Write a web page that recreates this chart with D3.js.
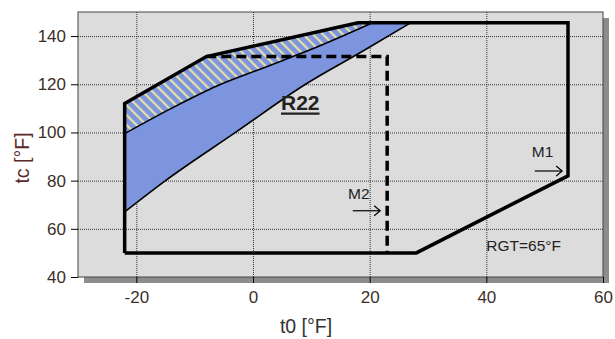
<!DOCTYPE html>
<html><head><meta charset="utf-8">
<script src="https://cdn.jsdelivr.net/npm/d3@7"></script>
<style>body{margin:0;background:#fff}svg{display:block}</style>
</head><body>
<script>
// ---- data ----
const xTicks = [-20, 0, 20, 40, 60];
const yTicks = [40, 60, 80, 100, 120, 140];
const envelope = [[-22,50],[-22,112],[-8,131.5],[18,145.5],[54,145.5],[54,82],[28,50],[-22,50]];
const dashedLimit = [[-8,131.5],[23,131.5],[23,50]];
const lowerLine = [[-22,67],[-15,80],[-3,100],[9,120],[19,134],[27,145.5]];
const middleLine = [[-22,99.5],[-14,110],[-6,119.5],[2,127],[12,136.5],[20.5,145.5]];
const envelopeTop = [[18,145.5],[-8,131.5],[-22,112]];
const labels = [
  {text:"R22", x:4.8, y:109.5, size:21, bold:true, underline:true, color:"#222"},
  {text:"M1", x:47.8, y:90, size:15.5, color:"#222"},
  {text:"M2", x:16.3, y:72.5, size:15.5, color:"#222"},
  {text:"RGT=65°F", x:40, y:50.8, size:15.5, color:"#222"}
];
const arrows = [[[48.3,84],[53,84]],[[17.1,67.5],[21.8,67.5]]];

// ---- layout ----
const W=615,H=339, L=78, R=603, T=12, B=277;
const svg=d3.select("body").append("svg").attr("width",W).attr("height",H)
  .style("font-family","'Liberation Sans',Arial,sans-serif");
const x=d3.scaleLinear().domain([-30,60]).range([L,R]);
const y=d3.scaleLinear().domain([40,150]).range([B,T]);

const defs=svg.append("defs");
const pat=defs.append("pattern").attr("id","hatch").attr("patternUnits","userSpaceOnUse")
  .attr("width",7).attr("height",7).attr("patternTransform","rotate(-45)");
pat.append("rect").attr("width",7).attr("height",7).attr("fill","#7d95de");
pat.append("rect").attr("x",0).attr("y",0).attr("width",2.2).attr("height",7).attr("fill","#e6e0a6");
defs.append("clipPath").attr("id","clip").append("rect").attr("x",L).attr("y",T).attr("width",R-L).attr("height",B-T);

// shadow + background
svg.append("rect").attr("x",L+6).attr("y",T+6).attr("width",R-L).attr("height",B-T).attr("fill","#8c8c8c");
svg.append("rect").attr("x",L).attr("y",T).attr("width",R-L).attr("height",B-T).attr("fill","#dcdcdc")
  .attr("stroke","#444").attr("stroke-width",1);

// grid
const g=svg.append("g");
g.selectAll(".gx").data(xTicks.filter(d=>d>-30&&d<60)).join("line")
  .attr("x1",d=>x(d)+0.5).attr("x2",d=>x(d)+0.5).attr("y1",T).attr("y2",B)
  .attr("stroke","#333").attr("stroke-width",1).attr("stroke-dasharray","1,1");
g.selectAll(".gy").data(yTicks.filter(d=>d>40&&d<150)).join("line")
  .attr("y1",d=>y(d)+0.5).attr("y2",d=>y(d)+0.5).attr("x1",L).attr("x2",R)
  .attr("stroke","#333").attr("stroke-width",1).attr("stroke-dasharray","1,1");

const line=d3.line().x(d=>x(d[0])).y(d=>y(d[1]));
const curve=d3.line().x(d=>x(d[0])).y(d=>y(d[1])).curve(d3.curveMonotoneX);
const lowerD=curve(lowerLine), midD=curve(middleLine), midRevD=d3.line().x(d=>x(d[0])).y(d=>y(d[1])).curve(d3.curveMonotoneX)(middleLine.slice().reverse());
const area=svg.append("g").attr("clip-path","url(#clip)");
// blue region
area.append("path").attr("d",lowerD+"L"+midRevD.slice(1)+"Z").attr("fill","#7d95de");
// hatched region
area.append("path").attr("d",midD+"L"+line(envelopeTop).slice(1)+"Z").attr("fill","url(#hatch)");
area.append("path").attr("d",lowerD).attr("fill","none").attr("stroke","#000").attr("stroke-width",1.6);
area.append("path").attr("d",midD).attr("fill","none").attr("stroke","#000").attr("stroke-width",1.6);
// envelope
area.append("path").attr("d",line(dashedLimit)).attr("fill","none").attr("stroke","#000")
  .attr("stroke-width",3.5).attr("stroke-dasharray","10,5");
area.append("path").attr("d",line(envelope)).attr("fill","none").attr("stroke","#000")
  .attr("stroke-width",3.5).attr("stroke-linejoin","miter");

// axes
const ax=svg.append("g").attr("transform",`translate(0,${B})`)
  .call(d3.axisBottom(x).tickValues(xTicks).tickFormat(d=>String(d)).tickSize(6).tickPadding(8));
const ay=svg.append("g").attr("transform",`translate(${L},0)`)
  .call(d3.axisLeft(y).tickValues(yTicks).tickFormat(d=>String(d)).tickSize(7).tickPadding(5));
[ax,ay].forEach(a=>{a.select(".domain").remove();
  a.selectAll("text").attr("font-size",17).attr("fill","#3b2f2a").style("font-family","'Liberation Sans',Arial,sans-serif");
  a.selectAll("line").attr("stroke","#000");});

// axis titles
svg.append("text").attr("x",306).attr("y",333).attr("text-anchor","middle")
  .attr("font-size",19.5).attr("fill","#333").text("t0 [°F]");
svg.append("text").attr("transform",`translate(29,${158}) rotate(-90)`).attr("text-anchor","middle")
  .attr("font-size",19.5).attr("fill","#5a2a2a").text("tc [°F]");

// labels
labels.forEach(l=>{
  const t=svg.append("text").attr("x",x(l.x)).attr("y",y(l.y)).attr("font-size",l.size)
    .attr("font-weight",l.bold?"bold":"normal").attr("fill",l.color).text(l.text);
  if(l.underline){
    const bb=t.node().getBBox();
    svg.append("line").attr("x1",bb.x).attr("x2",bb.x+bb.width).attr("y1",y(l.y)+4).attr("y2",y(l.y)+4)
      .attr("stroke",l.color).attr("stroke-width",2.2);
  }
});
arrows.forEach(a=>{
  const [p,q]=a;
  svg.append("line").attr("x1",x(p[0])).attr("y1",y(p[1])).attr("x2",x(q[0])).attr("y2",y(q[1]))
    .attr("stroke","#000").attr("stroke-width",1.2);
  svg.append("path").attr("d",`M${x(q[0])-6},${y(q[1])-5}L${x(q[0])},${y(q[1])}L${x(q[0])-6},${y(q[1])+5}`)
    .attr("fill","none").attr("stroke","#000").attr("stroke-width",1.2);
});
</script>
</body></html>
